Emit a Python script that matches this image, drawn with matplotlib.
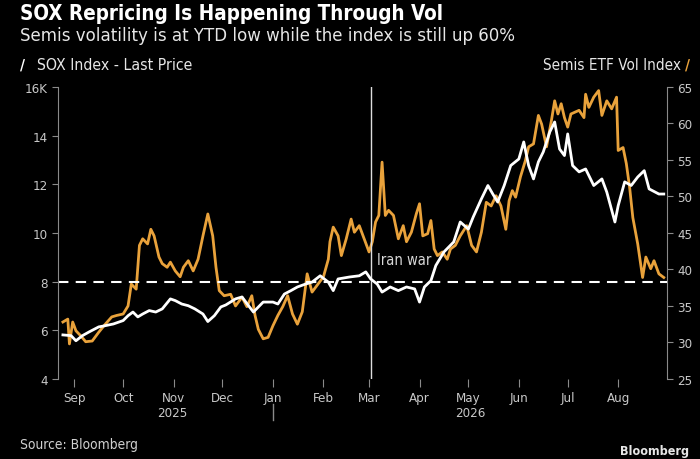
import matplotlib
matplotlib.use("Agg")
import matplotlib.pyplot as plt
import matplotlib.dates as mdates
import matplotlib.transforms as mtransforms
import numpy as np

# data (days counted from 2025-09-01)
base = np.datetime64("2025-09-01")

sox_day = [-7, -2, 1, 5, 9, 15, 19, 24, 30, 33, 36, 39, 42, 46, 50, 54, 59, 62,
           66, 70, 74, 79, 82, 86, 90, 93, 99, 103, 107, 110, 116, 122, 125,
           129, 133, 137, 142, 146, 151, 156, 159, 162, 169, 175, 179, 182,
           186, 189, 194, 199, 204, 209, 212, 215, 219, 222, 227, 233, 237,
           242, 245, 250, 254, 257, 260, 264, 268, 273, 276, 279, 282, 285,
           288, 292, 295, 298, 301, 303, 306, 310, 314, 319, 324, 327, 332,
           334, 338, 342, 346, 350, 353, 359, 362]
sox_level = [5.81, 5.78, 5.57, 5.78, 5.93, 6.14, 6.19, 6.26, 6.40, 6.60, 6.75,
             6.55, 6.67, 6.81, 6.75, 6.88, 7.29, 7.22, 7.08, 7.01, 6.88, 6.67,
             6.36, 6.60, 6.96, 7.04, 7.29, 7.37, 7.01, 6.75, 7.16, 7.16, 7.08,
             7.49, 7.63, 7.78, 7.90, 7.98, 8.24, 7.98, 7.63, 8.11, 8.19, 8.24,
             8.40, 8.11, 7.90, 7.57, 7.78, 7.63, 7.78, 7.70, 7.16, 7.78, 8.04,
             8.66, 9.22, 9.63, 10.45, 10.16, 10.66, 11.40, 11.95, 11.60, 11.27,
             11.95, 12.77, 13.04, 13.74, 12.77, 12.22, 12.92, 13.33, 14.15,
             14.56, 13.45, 13.18, 14.07, 12.77, 12.51, 12.63, 11.95, 12.22,
             11.68, 10.45, 11.12, 12.10, 11.95, 12.30, 12.56, 11.81, 11.60,
             11.60]

vol_day = [-7, -4, -3, -1, 1, 4, 7, 11, 15, 19, 23, 26, 30, 33, 35, 38, 40, 42,
           45, 47, 49, 52, 54, 57, 59, 62, 65, 67, 70, 73, 76, 79, 82, 85, 87,
           89, 92, 96, 99, 103, 106, 109, 111, 113, 116, 119, 122, 125, 128,
           131, 134, 137, 140, 143, 146, 149, 153, 156, 157, 159, 162, 164,
           167, 170, 172, 175, 178, 181, 183, 185, 187, 189, 191, 193, 196,
           199, 202, 204, 207, 210, 212, 214, 217, 219, 221, 223, 226, 229,
           231, 234, 237, 241, 244, 247, 250, 253, 256, 259, 262, 265, 267,
           269, 271, 274, 277, 279, 282, 285, 287, 290, 293, 295, 297, 299,
           301, 303, 305, 310, 313, 314, 316, 319, 322, 324, 327, 330, 333,
           334, 337, 339, 341, 343, 346, 349, 351, 354, 356, 359, 362]
vol_level = [32.8, 33.2, 29.8, 32.8, 31.6, 30.9, 30.1, 30.2, 31.4, 32.5, 33.5,
             33.7, 33.9, 35.0, 38.0, 37.3, 43.3, 44.2, 43.5, 45.5, 44.6, 41.7,
             40.8, 40.3, 41.0, 39.8, 39.0, 40.3, 41.2, 39.8, 41.4, 44.6, 47.6,
             44.6, 40.3, 37.1, 36.4, 36.6, 35.0, 36.2, 34.9, 36.4, 33.7, 31.8,
             30.5, 30.7, 32.3, 33.7, 34.9, 36.4, 33.9, 32.5, 34.2, 39.4, 36.9,
             37.8, 39.0, 41.4, 43.8, 45.8, 44.6, 41.9, 44.2, 46.9, 45.1, 46.0,
             44.2, 42.4, 43.8, 46.5, 47.4, 54.7, 47.4, 48.1, 47.4, 44.2, 46.0,
             43.8, 45.1, 47.6, 49.0, 44.6, 44.9, 46.7, 42.8, 41.9, 42.4, 41.4,
             42.8, 43.3, 44.6, 46.0, 43.3, 42.4, 45.1, 49.2, 48.7, 50.1, 48.7,
             45.5, 49.4, 50.8, 49.9, 52.7, 54.9, 56.8, 57.2, 61.1, 59.9, 56.8,
             60.4, 63.1, 61.3, 62.7, 60.8, 59.5, 61.3, 61.8, 60.8, 64.0, 62.2,
             63.6, 64.5, 61.1, 63.1, 62.0, 63.6, 56.3, 56.7, 54.5, 51.3, 47.1,
             43.5, 38.9, 41.7, 40.1, 41.2, 39.4, 38.9]

left_ticks = [4, 6, 8, 10, 12, 14, 16]
left_labels = ["4", "6", "8", "10", "12", "14", "16K"]
right_ticks = [25, 30, 35, 40, 45, 50, 55, 60, 65]
ytd_level = 8
event_day = 182
event_label = "Iran war"

ORANGE = "#E9A23B"
GREY = "#c8c8c8"
SPINE = "#8a8a8a"

plt.rcParams["font.family"] = ["DejaVu Sans Condensed", "Liberation Sans Narrow",
                               "DejaVu Sans"]
plt.rcParams["font.stretch"] = "condensed"

sox_dates = base + np.array(sox_day).astype("timedelta64[D]")
vol_dates = base + np.array(vol_day).astype("timedelta64[D]")

fig = plt.figure(figsize=(7, 4.6), dpi=100, facecolor="black")
ax = fig.add_axes([0.0829, 0.174, 0.8700, 0.6348])
ax.set_facecolor("black")
ax2 = ax.twinx()

ax.axhline(ytd_level, color="white", lw=1.5, ls=(0, (5, 3.5)), zorder=2)
ax.axvline(base + np.timedelta64(event_day, "D"), color="#dddddd", lw=1,
           zorder=1)
ax2.plot(vol_dates, vol_level, color=ORANGE, lw=2, zorder=3)
ax.plot(sox_dates, sox_level, color="white", lw=2, zorder=4)
ax.set_zorder(ax2.get_zorder() + 1)
ax.patch.set_visible(False)

ax.text(base + np.timedelta64(event_day + 4, "D"), 8.9, event_label,
        color="#d8d8d8", fontsize=10.5, va="center", ha="left", zorder=5)

ax.set_xlim(base - np.timedelta64(10, "D"), base + np.timedelta64(364, "D"))
ax.set_ylim(4, 16)
ax2.set_ylim(25, 65)
ax.set_yticks(left_ticks)
ax.set_yticklabels(left_labels)
ax2.set_yticks(right_ticks)

for a in (ax, ax2):
    for s in ("top", "bottom"):
        a.spines[s].set_visible(False)
    a.spines["left"].set_color(SPINE)
    a.spines["right"].set_color(SPINE)
    a.tick_params(colors=SPINE, labelcolor=GREY, labelsize=9.5, length=4,
                  direction="out")
ax.spines["right"].set_visible(False)
ax2.spines["left"].set_visible(False)

ax.xaxis.set_major_locator(mdates.MonthLocator())
ax.xaxis.set_major_formatter(mdates.DateFormatter("%b"))
ax.tick_params(axis="x", length=6, pad=3)

# year labels under the month ticks
trans = mtransforms.blended_transform_factory(ax.transData, ax.transAxes)
ax.text(base + np.timedelta64(60, "D"), -0.114, "2025", transform=trans,
        color=GREY, fontsize=9.5, ha="center", va="center")
ax.text(base + np.timedelta64(243, "D"), -0.114, "2026", transform=trans,
        color=GREY, fontsize=9.5, ha="center", va="center")
ax.plot([base + np.timedelta64(122, "D")] * 2, [-0.085, -0.14],
        transform=trans, color=SPINE, lw=1, clip_on=False)

fig.text(0.029, 0.970, "SOX Repricing Is Happening Through Vol",
         color="white", fontsize=14.8, fontweight="bold", va="center")
fig.text(0.029, 0.922,
         "Semis volatility is at YTD low while the index is still up 60%",
         color="#e6e6e6", fontsize=13.3, va="center")
fig.text(0.029, 0.857, "\u2215", color="white", fontsize=11,
         fontweight="bold", va="center", family=["DejaVu Sans"])
fig.text(0.053, 0.857, "SOX Index - Last Price", color="#e6e6e6",
         fontsize=11.3, va="center")
fig.text(0.973, 0.857, "Semis ETF Vol Index", color="#e6e6e6",
         fontsize=11, va="center", ha="right")
fig.text(0.979, 0.857, "\u2215", color=ORANGE, fontsize=11,
         fontweight="bold", va="center", family=["DejaVu Sans"])
fig.text(0.029, 0.032, "Source: Bloomberg", color="#d0d0d0", fontsize=9.9,
         va="center")
fig.text(0.985, 0.004, "Bloomberg", color="#e6e6e6", fontsize=9,
         fontweight="bold", va="bottom", ha="right")

fig.savefig("out.png", dpi=100, facecolor="black")
